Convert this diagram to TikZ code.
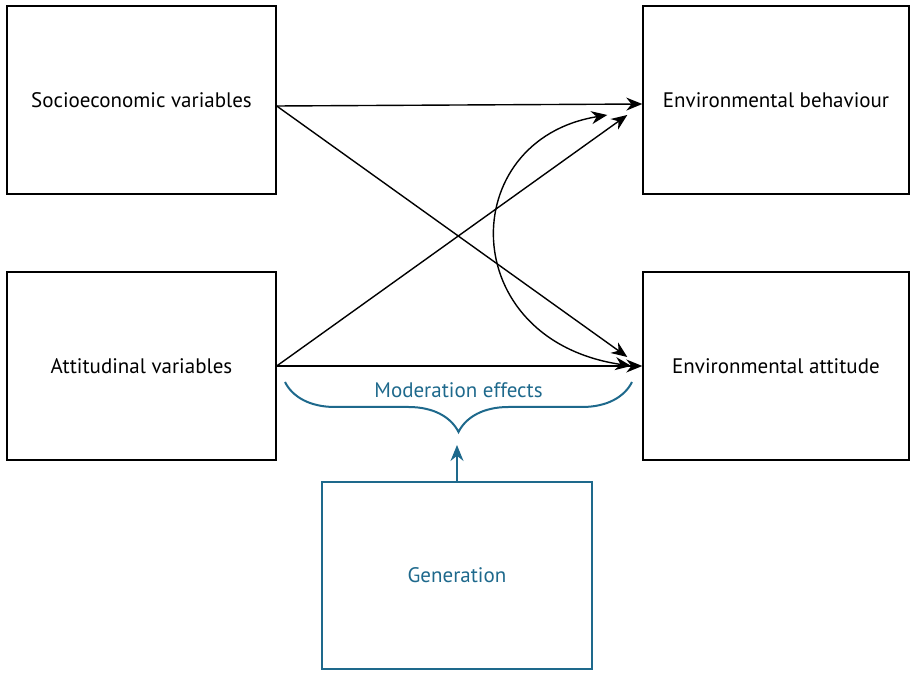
\documentclass[tikz,border=0pt]{standalone}
\usepackage{fontspec}
\setmainfont{PT Sans}
\usetikzlibrary{arrows.meta, decorations.pathreplacing}
\definecolor{genblue}{RGB}{30,105,140}

\begin{document}
\begin{tikzpicture}[x=0.5pt, y=-0.5pt,
    >={Stealth[length=8pt,width=6.5pt]},
    box/.style={draw, line width=0.7pt, minimum height=94pt, inner sep=0pt,
        font=\fontsize{10.5}{12.5}\selectfont},
    link/.style={->, line width=0.7pt}]
    \useasboundingbox (0,0) rectangle (911,673);

    % variable boxes
    \node[box, minimum width=134.5pt] (socio) at (141.5,100) {Socioeconomic variables};
    \node[box, minimum width=134.5pt] (attit) at (141.5,366) {Attitudinal variables};
    \node[box, minimum width=133pt] (behav) at (776,100) {Environmental behaviour};
    \node[box, minimum width=133pt] (envatt) at (776,366) {Environmental attitude};
    \node[box, draw=genblue, text=genblue, line width=1pt, minimum width=135pt, minimum height=93.5pt] (gen) at (457,575.5) {Generation};

    % direct effects
    \draw[link] ([yshift=-3pt]socio.east) -- ([yshift=-2pt]behav.west);
    \draw[link] ([yshift=-3pt]socio.east) -- ([xshift=-7.5pt,yshift=4.5pt]envatt.west);
    \draw[link] (attit.east) -- ([xshift=-7.5pt,yshift=-7.5pt]behav.west);
    \draw[link] (attit.east) -- (envatt.west);

    % correlation
    \draw[<->, line width=0.7pt] ([xshift=-5.5pt]envatt.west) .. controls (455,340) and (455,140) .. ([xshift=-17.5pt,yshift=-7.5pt]behav.west);

    % moderation
    \draw[genblue, line width=1pt, decorate, decoration={brace, mirror, amplitude=25pt}]
        (285,382) -- (632,382) node[midway, yshift=-4pt, font=\fontsize{10.5}{12.5}\selectfont] {Moderation effects};
    \draw[genblue, line width=0.8pt, ->] (gen.north) -- ([yshift=18pt]gen.north);
\end{tikzpicture}
\end{document}
